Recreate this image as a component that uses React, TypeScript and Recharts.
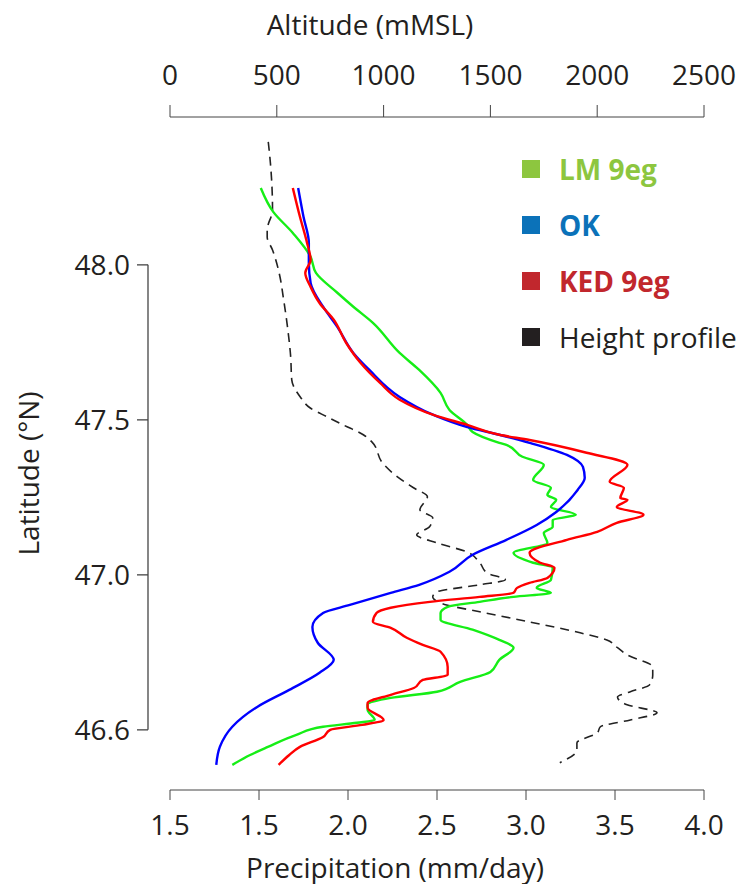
import { LineChart, Line, XAxis, YAxis, ReferenceLine, Legend } from 'recharts'

// bottom axis: precipitation (the first tick is printed as "1.5" in the original figure)
const precipTicks = [1.0, 1.5, 2.0, 2.5, 3.0, 3.5, 4.0]
const precipTickLabels = ['1.5', '1.5', '2.0', '2.5', '3.0', '3.5', '4.0']
// top axis: altitude
const altitudeTicks = [0, 500, 1000, 1500, 2000, 2500]
// left axis: latitude
const latTicks = [46.5, 47.0, 47.5, 48.0]
const latTickLabels = ['46.6', '47.0', '47.5', '48.0']

// [latitude, precipitation mm/day]
const lmProfile: [number, number][] = [
    [48.248, 1.51], [48.171, 1.58], [48.103, 1.69], [48.026, 1.79], [47.974, 1.82],
    [47.91, 1.94], [47.865, 2.03], [47.813, 2.14], [47.716, 2.29], [47.661, 2.4],
    [47.587, 2.52], [47.532, 2.57], [47.484, 2.67], [47.461, 2.7], [47.426, 2.85],
    [47.419, 2.89], [47.381, 2.98], [47.355, 3.1], [47.306, 3.04], [47.281, 3.14],
    [47.258, 3.12], [47.242, 3.17], [47.219, 3.14], [47.194, 3.28], [47.177, 3.15],
    [47.155, 3.15], [47.135, 3.1], [47.103, 3.12], [47.071, 2.93], [47.039, 3.04],
    [47.023, 3.15], [46.984, 3.14], [46.958, 3.06], [46.942, 3.14], [46.929, 2.93],
    [46.913, 2.74], [46.897, 2.56], [46.877, 2.52], [46.855, 2.52], [46.823, 2.7],
    [46.79, 2.85], [46.765, 2.93], [46.726, 2.85], [46.687, 2.8], [46.655, 2.63],
    [46.623, 2.5], [46.603, 2.24], [46.581, 2.11], [46.565, 2.11], [46.532, 2.15],
    [46.523, 2.05], [46.51, 1.86], [46.484, 1.71], [46.445, 1.55], [46.419, 1.45],
    [46.387, 1.35],
]

const okProfile: [number, number][] = [
    [48.248, 1.72], [48.155, 1.75], [48.071, 1.78], [48.006, 1.78], [47.942, 1.79],
    [47.865, 1.86], [47.8, 1.94], [47.716, 2.03], [47.661, 2.12], [47.574, 2.29],
    [47.516, 2.48], [47.477, 2.67], [47.452, 2.85], [47.426, 3.02], [47.387, 3.23],
    [47.348, 3.32], [47.313, 3.33], [47.274, 3.29], [47.203, 3.17], [47.161, 3.06],
    [47.113, 2.89], [47.065, 2.7], [47.01, 2.57], [46.968, 2.4], [46.942, 2.24],
    [46.903, 2.01], [46.877, 1.86], [46.832, 1.8], [46.781, 1.83], [46.726, 1.92],
    [46.684, 1.84], [46.629, 1.67], [46.574, 1.49], [46.51, 1.35], [46.445, 1.28],
    [46.387, 1.26],
]

const kedProfile: [number, number][] = [
    [48.248, 1.69], [48.155, 1.73], [48.071, 1.77], [48.016, 1.79], [47.974, 1.76],
    [47.929, 1.79], [47.877, 1.84], [47.823, 1.92], [47.748, 1.99], [47.684, 2.07],
    [47.619, 2.18], [47.565, 2.29], [47.516, 2.48], [47.484, 2.67], [47.452, 2.85],
    [47.435, 3.02], [47.394, 3.34], [47.355, 3.57], [47.3, 3.47], [47.281, 3.55],
    [47.248, 3.53], [47.242, 3.57], [47.219, 3.51], [47.194, 3.66], [47.168, 3.51],
    [47.139, 3.4], [47.113, 3.23], [47.071, 3.02], [47.039, 3.08], [47.023, 3.16],
    [46.99, 3.12], [46.974, 3.02], [46.958, 2.95], [46.942, 2.93], [46.929, 2.74],
    [46.913, 2.46], [46.894, 2.24], [46.877, 2.16], [46.848, 2.14], [46.829, 2.24],
    [46.797, 2.33], [46.774, 2.42], [46.752, 2.52], [46.703, 2.56], [46.677, 2.56],
    [46.661, 2.42], [46.635, 2.37], [46.613, 2.24], [46.587, 2.11], [46.571, 2.11],
    [46.532, 2.2], [46.516, 2.08], [46.5, 1.9], [46.477, 1.86], [46.445, 1.73],
    [46.419, 1.67], [46.387, 1.61],
]

// [latitude, altitude mMSL]
const heightProfile: [number, number][] = [
    [48.397, 460], [48.329, 470], [48.177, 480], [48.113, 455], [48.09, 455],
    [48.048, 480], [47.961, 515], [47.897, 530], [47.8, 550], [47.703, 565],
    [47.629, 570], [47.574, 610], [47.539, 655], [47.51, 735], [47.484, 810],
    [47.452, 905], [47.429, 945], [47.361, 995], [47.316, 1065], [47.281, 1140],
    [47.252, 1205], [47.21, 1170], [47.184, 1230], [47.155, 1215], [47.129, 1155],
    [47.103, 1250], [47.074, 1390], [47.039, 1450], [47.006, 1485], [46.984, 1570],
    [46.968, 1450], [46.945, 1250], [46.929, 1230], [46.903, 1295], [46.881, 1450],
    [46.848, 1685], [46.813, 1920], [46.79, 2045], [46.765, 2095], [46.742, 2140],
    [46.703, 2260], [46.677, 2260], [46.645, 2245], [46.623, 2155], [46.606, 2095],
    [46.581, 2140], [46.555, 2280], [46.532, 2155], [46.51, 2015], [46.49, 2000],
    [46.458, 1905], [46.435, 1905], [46.394, 1825],
]

const legendItems = [
    { label: 'LM 9eg', color: '#8dc63f', bold: true },
    { label: 'OK', color: '#0b72b9', bold: true },
    { label: 'KED 9eg', color: '#c1272d', bold: true },
    { label: 'Height profile', color: '#231f20', bold: false },
]

const toRows = (pts: [number, number][]) => pts.map(([lat, v]) => ({ lat, v }))

const TEXT = '#231f20'
const AXIS = '#444'
const FONT = 28
const Y_AXIS_SHIFT = 22 // the latitude axis sits a little left of the plot

function LatTick(props: any) {
    const { x, y, index } = props
    const ax = x - Y_AXIS_SHIFT
    return (
        <g>
            <line x1={ax - 11} y1={y} x2={ax} y2={y} stroke={AXIS} strokeWidth={1.3} />
            <text x={ax - 18} y={y} dy="0.36em" textAnchor="end" fontSize={FONT} fill={TEXT}>
                {latTickLabels[index]}
            </text>
        </g>
    )
}

function LegendBox() {
    return (
        <div style={{ display: 'flex', flexDirection: 'column', gap: 26 }}>
            {legendItems.map((it) => (
                <div key={it.label} style={{ display: 'flex', alignItems: 'center', height: 30 }}>
                    <span style={{ width: 18, height: 18, background: it.color, marginRight: 19, flexShrink: 0 }} />
                    <span style={{ color: it.color, fontSize: FONT, fontWeight: it.bold ? 700 : 400, whiteSpace: 'nowrap' }}>
                        {it.label}
                    </span>
                </div>
            ))}
        </div>
    )
}

export default function App() {
    return (
        <div style={{ margin: -8, fontFamily: '"Open Sans", sans-serif', background: '#fff' }}>
            <LineChart
                width={753}
                height={892}
                layout="vertical"
                margin={{ top: 0, right: 49, bottom: 0, left: 0 }}
            >
                <XAxis
                    xAxisId="precip"
                    type="number"
                    orientation="bottom"
                    domain={[1, 4]}
                    ticks={precipTicks}
                    interval={0}
                    tickFormatter={(v: number, i: number) => precipTickLabels[i]}
                    height={102}
                    tickSize={10}
                    tickMargin={15}
                    stroke={AXIS}
                    tick={{ fontSize: FONT, fill: TEXT }}
                    label={{ value: 'Precipitation (mm/day)', position: 'insideBottom', offset: 14, dx: -42, fontSize: FONT, fill: TEXT }}
                />
                <XAxis
                    xAxisId="alt"
                    type="number"
                    orientation="top"
                    domain={[0, 2500]}
                    ticks={altitudeTicks}
                    interval={0}
                    height={117}
                    tickSize={12}
                    tickMargin={20}
                    stroke={AXIS}
                    tick={{ fontSize: FONT, fill: TEXT }}
                    label={{ value: 'Altitude (mMSL)', position: 'insideTop', offset: 15, dx: -67, fontSize: FONT, fill: TEXT }}
                />
                <YAxis
                    type="number"
                    dataKey="lat"
                    domain={[46.306, 48.477]}
                    ticks={latTicks}
                    interval={0}
                    reversed
                    width={170}
                    axisLine={false}
                    tickLine={false}
                    tickSize={0}
                    tickMargin={0}
                    tick={(p: any) => <LatTick {...p} />}
                    label={{ value: 'Latitude (°N)', angle: -90, position: 'center', dx: -56, dy: 20, fontSize: FONT, fill: TEXT }}
                />
                <ReferenceLine
                    xAxisId="precip"
                    ifOverflow="visible"
                    segment={[
                        { x: 1 - Y_AXIS_SHIFT / 178, y: latTicks[0] },
                        { x: 1 - Y_AXIS_SHIFT / 178, y: latTicks[latTicks.length - 1] },
                    ]}
                    stroke={AXIS}
                    strokeWidth={1.3}
                />
                <Line
                    data={toRows(heightProfile)}
                    xAxisId="alt"
                    dataKey="v"
                    type="monotone"
                    stroke="#222"
                    strokeWidth={1.6}
                    strokeDasharray="9 6"
                    dot={false}
                    isAnimationActive={false}
                />
                <Line
                    data={toRows(lmProfile)}
                    xAxisId="precip"
                    dataKey="v"
                    type="monotone"
                    stroke="#16ee16"
                    strokeWidth={2.4}
                    dot={false}
                    isAnimationActive={false}
                />
                <Line
                    data={toRows(okProfile)}
                    xAxisId="precip"
                    dataKey="v"
                    type="monotone"
                    stroke="#0000ff"
                    strokeWidth={2.4}
                    dot={false}
                    isAnimationActive={false}
                />
                <Line
                    data={toRows(kedProfile)}
                    xAxisId="precip"
                    dataKey="v"
                    type="monotone"
                    stroke="#ff0000"
                    strokeWidth={2.4}
                    dot={false}
                    isAnimationActive={false}
                />
                <Legend
                    layout="vertical"
                    align="center"
                    verticalAlign="middle"
                    content={() => <LegendBox />}
                    wrapperStyle={{ left: 522, top: 154, width: 231 }}
                />
            </LineChart>
        </div>
    )
}
